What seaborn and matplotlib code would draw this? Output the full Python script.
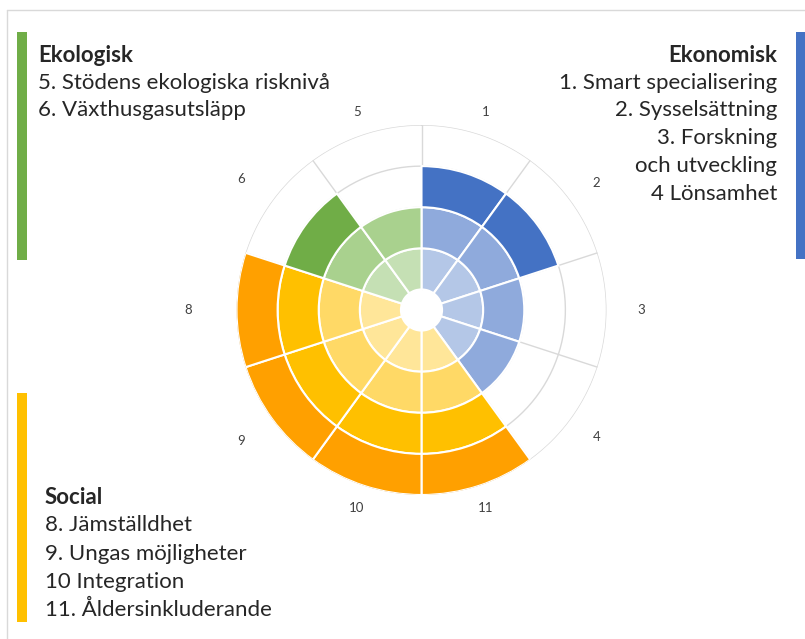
import numpy as np
import matplotlib.pyplot as plt
import seaborn as sns
from matplotlib.patches import Rectangle
from matplotlib.lines import Line2D

# sectors clockwise from the top
sector_labels = ["1", "2", "3", "4", "11", "10", "9", "8", "6", "5"]
sector_levels = [3, 3, 2, 2, 4, 4, 4, 4, 3, 2]
sector_group = ["eko", "eko", "eko", "eko", "soc", "soc", "soc", "soc", "ekol", "ekol"]

ring_colors = {
    "eko": ["#B4C7E7", "#8FAADC", "#4472C4"],
    "soc": ["#FFE699", "#FFD966", "#FFC000", "#FFA000"],
    "ekol": ["#C5E0B4", "#A9D18E", "#70AD47"],
}

ekol_lines = ["5. Stödens ekologiska risknivå", "6. Växthusgasutsläpp"]
eko_lines = ["1. Smart specialisering", "2. Sysselsättning", "3. Forskning",
             "och utveckling", "4 Lönsamhet"]
soc_lines = ["8. Jämställdhet", "9. Ungas möjligheter", "10 Integration",
             "11. Åldersinkluderande"]

sns.set_style("white")
plt.rcParams["font.family"] = ["Lato", "DejaVu Sans"]

W, H = 805, 639
fig = plt.figure(figsize=(W / 100, H / 100), dpi=100)


def fx(x):
    return x / W


def fy(y):
    return 1 - y / H


# polar axes: center (421.5, 310), outer radius 185 px
cx, cy, R = 421.5, 310, 185
ax = fig.add_axes([fx(cx - R), fy(cy + R), 2 * R / W, 2 * R / H], projection="polar")
ax.set_theta_zero_location("N")
ax.set_theta_direction(-1)
ax.set_ylim(0, 4.5)
ax.axis("off")

n = len(sector_labels)
width = 2 * np.pi / n
grid_col = "#D9D9D9"

t = np.linspace(0, 2 * np.pi, 400)
for r in [1.5, 2.5, 3.5, 4.5]:
    ax.plot(t, np.full_like(t, r), color=grid_col, lw=1, zorder=1)
for i in range(n):
    ax.plot([i * width, i * width], [0.5, 4.5], color=grid_col, lw=1, zorder=1)

for i, (lvl, grp) in enumerate(zip(sector_levels, sector_group)):
    theta = (i + 0.5) * width
    for k in range(lvl):
        ax.bar(theta, 1, width=width, bottom=0.5 + k, color=ring_colors[grp][k],
               edgecolor="white", linewidth=1.5, zorder=2)

for i, lab in enumerate(sector_labels):
    theta = (i + 0.5) * width
    r_px = 203 + 16 * abs(np.sin(theta)) + (14 if np.sin(theta) < 0 else 0) * np.sin(theta) ** 4
    ax.text(theta, r_px / 41, lab, ha="center", va="center", fontsize=9.5,
            color="#404040", clip_on=False)

# colored bars and border
fig.add_artist(Rectangle((fx(17), fy(260)), 10 / W, 228 / H, transform=fig.transFigure,
                         color="#70AD47", lw=0))
fig.add_artist(Rectangle((fx(796), fy(259)), 10 / W, 227 / H, transform=fig.transFigure,
                         color="#4472C4", lw=0))
fig.add_artist(Rectangle((fx(17), fy(622)), 10 / W, 229 / H, transform=fig.transFigure,
                         color="#FFC000", lw=0))
fig.add_artist(Line2D([fx(7), fx(7)], [fy(9.5), 0], transform=fig.transFigure,
                      color=grid_col, lw=1))
fig.add_artist(Line2D([fx(7), 1], [fy(9.5), fy(9.5)], transform=fig.transFigure,
                      color=grid_col, lw=1))

fs = 16
step = 27.7
fig.text(fx(38), fy(55), "Ekologisk", fontsize=fs, fontweight="bold", va="center")
for j, s in enumerate(ekol_lines):
    fig.text(fx(38), fy(55 + step * (j + 1)), s, fontsize=fs, va="center")

fig.text(fx(777), fy(55), "Ekonomisk", fontsize=fs, fontweight="bold", va="center", ha="right")
for j, s in enumerate(eko_lines):
    fig.text(fx(777), fy(55 + step * (j + 1)), s, fontsize=fs, va="center", ha="right")

fig.text(fx(45), fy(497), "Social", fontsize=fs, fontweight="bold", va="center")
for j, s in enumerate(soc_lines):
    fig.text(fx(45), fy(497 + 28.3 * (j + 1)), s, fontsize=fs, va="center")

fig.savefig("out.png", dpi=100, facecolor="white")
